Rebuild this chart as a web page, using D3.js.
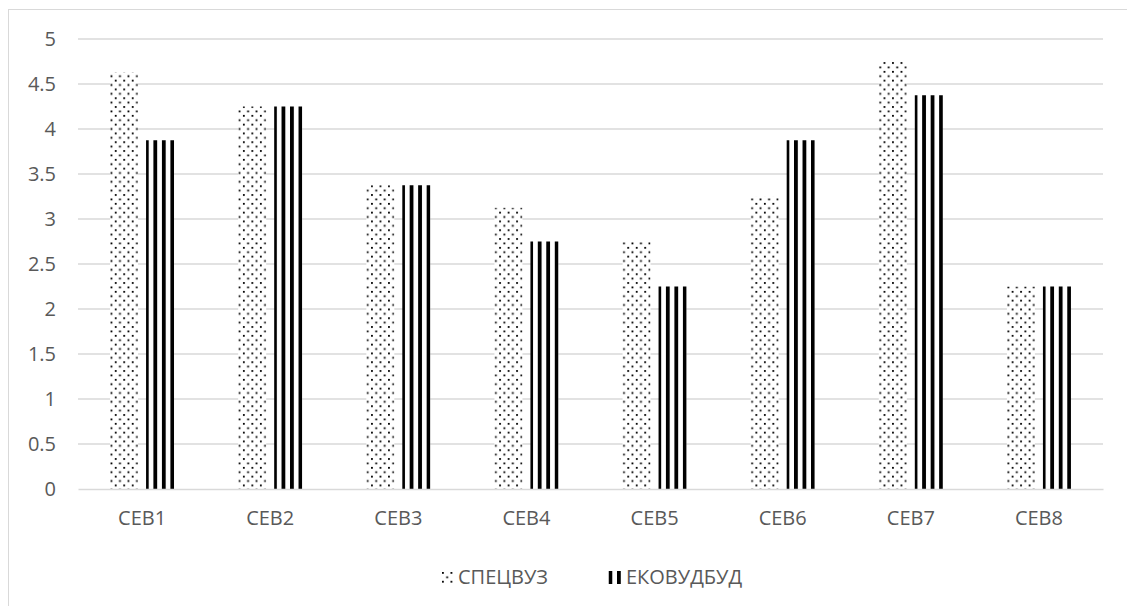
<!DOCTYPE html>
<html>
<head>
<meta charset="utf-8">
<script src="https://cdn.jsdelivr.net/npm/d3@7"></script>
<style>
  html, body { margin: 0; padding: 0; background: #fff; }
  svg { display: block; }
  text { font-family: "Open Sans", "Noto Sans", sans-serif; fill: #595959; }
</style>
</head>
<body>
<svg id="chart" width="1127" height="606"></svg>
<script>
// Categories, series and tick values
const categories = ["CEB1", "CEB2", "CEB3", "CEB4", "CEB5", "CEB6", "CEB7", "CEB8"];
const seriesNames = ["СПЕЦВУЗ", "ЕКОВУДБУД"];
const spetsvuz   = [4.625, 4.25, 3.375, 3.125, 2.75, 3.25, 4.75, 2.25];
const ekovudbud  = [3.875, 4.25, 3.375, 2.75, 2.25, 3.875, 4.375, 2.25];
const yTicks = [0, 0.5, 1, 1.5, 2, 2.5, 3, 3.5, 4, 4.5, 5];

const rows = categories.map((c, i) => ({ cat: c, values: [spetsvuz[i], ekovudbud[i]] }));

const svg = d3.select("#chart");
const W = 1127, H = 606;
const plot = { left: 78, right: 1103, top: 39, bottom: 489 };
const FONT = 20;

// Outer chart frame
svg.append("rect")
  .attr("x", 8.5).attr("y", 9.5)
  .attr("width", W + 10).attr("height", H + 10)
  .attr("fill", "none").attr("stroke", "#d9d9d9").attr("stroke-width", 1);

// Fill patterns: dotted grid and vertical stripes (page-aligned tiles)
const defs = svg.append("defs");
function dotPattern(id, px, py) {
  const p = defs.append("pattern")
    .attr("id", id).attr("patternUnits", "userSpaceOnUse")
    .attr("x", px).attr("y", py)
    .attr("width", 8.5).attr("height", 8.8);
  p.append("rect").attr("width", 8.5).attr("height", 8.8).attr("fill", "#fff");
  p.append("rect").attr("x", 0).attr("y", 0).attr("width", 1.8).attr("height", 1.8).attr("fill", "#000");
  p.append("rect").attr("x", 4.25).attr("y", 4.4).attr("width", 1.8).attr("height", 1.8).attr("fill", "#000");
}
function stripePattern(id, px) {
  const p = defs.append("pattern")
    .attr("id", id).attr("patternUnits", "userSpaceOnUse")
    .attr("x", px).attr("y", 0)
    .attr("width", 8.5).attr("height", 10);
  p.append("rect").attr("width", 8.5).attr("height", 10).attr("fill", "#fff");
  p.append("rect").attr("x", 0).attr("width", 3.8).attr("height", 10).attr("fill", "#000");
}
dotPattern("dots", 2.8, 0.5);
stripePattern("stripes", 7.4);
dotPattern("dotsKey", 442, 572);
stripePattern("stripesKey", 608.5);

const fills = ["url(#dots)", "url(#stripes)"];
const keyFills = ["url(#dotsKey)", "url(#stripesKey)"];

// Scales
const x0 = d3.scaleBand().domain(categories).range([plot.left, plot.right]).padding(0);
const x1 = d3.scaleBand().domain(seriesNames).range([0, x0.bandwidth()])
  .paddingInner(0.222).paddingOuter(0.89);
const y = d3.scaleLinear().domain([0, 5]).range([plot.bottom, plot.top]);

// Gridlines
svg.append("g").selectAll("line").data(yTicks.filter(t => t > 0)).join("line")
  .attr("x1", plot.left).attr("x2", plot.right)
  .attr("y1", d => y(d)).attr("y2", d => y(d))
  .attr("stroke", "#d9d9d9").attr("stroke-width", 1.3);

// Y axis labels
const yAxis = d3.axisLeft(y).tickValues(yTicks).tickSize(0).tickPadding(0)
  .tickFormat(d3.format("~g"));
svg.append("g").attr("transform", "translate(56,0)").call(yAxis)
  .call(g => g.select(".domain").remove())
  .call(g => g.selectAll("text")
    .attr("font-family", "'Open Sans', sans-serif")
    .attr("font-size", FONT).attr("fill", "#595959"));

// Bars
const groups = svg.append("g").selectAll("g").data(rows).join("g")
  .attr("transform", d => `translate(${x0(d.cat)},0)`);
groups.selectAll("rect")
  .data(d => d.values.map((v, i) => ({ key: seriesNames[i], v, i })))
  .join("rect")
  .attr("x", d => x1(d.key))
  .attr("width", x1.bandwidth())
  .attr("y", d => y(d.v))
  .attr("height", d => y(0) - y(d.v))
  .attr("fill", d => fills[d.i]);

// Category axis
const xAxis = d3.axisBottom(x0).tickSize(0).tickPadding(22);
svg.append("g").attr("transform", `translate(0,${plot.bottom})`).call(xAxis)
  .call(g => g.select(".domain").attr("stroke", "#d9d9d9").attr("stroke-width", 1.3))
  .call(g => g.selectAll("text")
    .attr("font-family", "'Open Sans', sans-serif")
    .attr("font-size", FONT).attr("fill", "#595959"));

// Legend
const legend = svg.append("g");
const legendItems = [
  { name: seriesNames[0], sx: 441, sw: 13, tx: 458 },
  { name: seriesNames[1], sx: 608.5, sw: 12.5, tx: 626 }
];
legend.selectAll("rect").data(legendItems).join("rect")
  .attr("x", d => d.sx).attr("y", 571)
  .attr("width", d => d.sw).attr("height", 13)
  .attr("fill", (d, i) => keyFills[i]);
legend.selectAll("text").data(legendItems).join("text")
  .attr("x", d => d.tx).attr("y", 584)
  .attr("font-size", FONT).attr("fill", "#595959")
  .text(d => d.name);
</script>
</body>
</html>
